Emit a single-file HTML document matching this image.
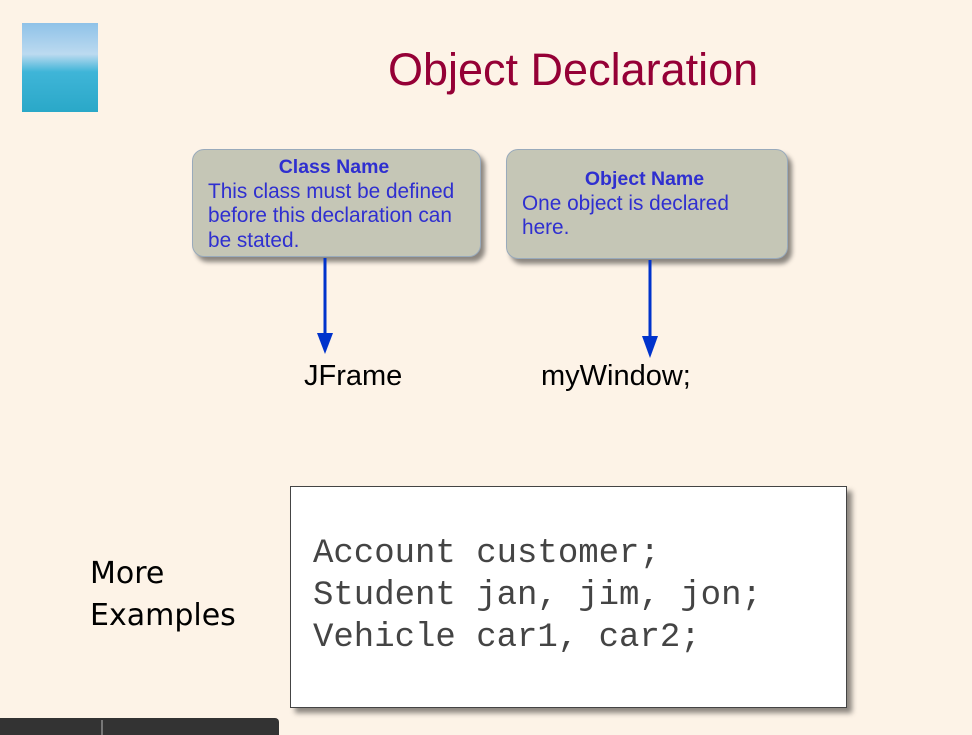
<!DOCTYPE html>
<html><head><style>
body{margin:0;width:972px;height:735px;background:#fdf3e7;position:relative;overflow:hidden;font-family:"Liberation Sans",sans-serif}
.a{position:absolute}
.box{position:absolute;background:#c5c6b6;border:1px solid #9ab;border-radius:12px;box-shadow:4px 5px 5px rgba(0,0,0,.45);color:#2f2fd0;font-size:20.8px;line-height:24.5px}
.box b{display:block;text-align:center;font-size:19.5px}
</style></head><body>
<div class="a" style="left:22px;top:23px;width:76px;height:89px;background:linear-gradient(#8fc2e8 0%,#bcdaf0 35%,#3fb5d8 55%,#2aa8c8 100%)"></div>
<div class="a" style="left:388px;top:44px;font-size:45px;color:#950036">Object Declaration</div>
<div class="box" style="left:192px;top:149px;width:289px;height:108px;padding:5px 10px 0 15px;box-sizing:border-box"><b style="padding-right:10px">Class Name</b>This class must be defined before this declaration can be stated.</div>
<div class="box" style="left:506px;top:149px;width:282px;height:110px;padding:17px 20px 0 15px;box-sizing:border-box"><b>Object Name</b>One object is declared here.</div>
<svg class="a" style="left:0;top:0" width="972" height="735">
<line x1="325" y1="258" x2="325" y2="335" stroke="#0033cc" stroke-width="3"/>
<polygon points="317,333 333,333 325,354" fill="#0033cc"/>
<line x1="650" y1="260" x2="650" y2="338" stroke="#0033cc" stroke-width="3"/>
<polygon points="642,336 658,336 650,358" fill="#0033cc"/>
</svg>
<div class="a" style="left:304px;top:360px;font-size:29px">JFrame</div>
<div class="a" style="left:541px;top:360px;font-size:29px">myWindow;</div>
<div class="a" style="left:290px;top:486px;width:555px;height:220px;background:#fff;border:1px solid #444;box-shadow:5px 5px 5px rgba(0,0,0,.45)"></div>
<div class="a" style="left:313px;top:533px;font-family:'Liberation Mono',monospace;font-size:34px;line-height:42px;color:#444;white-space:pre">Account customer;
Student jan, jim, jon;
Vehicle car1, car2;</div>
<div class="a" style="left:90px;top:553px;font-family:'DejaVu Sans',sans-serif;font-size:30px;line-height:42px">More<br>Examples</div>
<div class="a" style="left:0;top:718px;width:279px;height:17px;background:#333;border-radius:0 4px 0 0"></div>
<div class="a" style="left:101px;top:720px;width:2px;height:15px;background:#777"></div>
</body></html>
